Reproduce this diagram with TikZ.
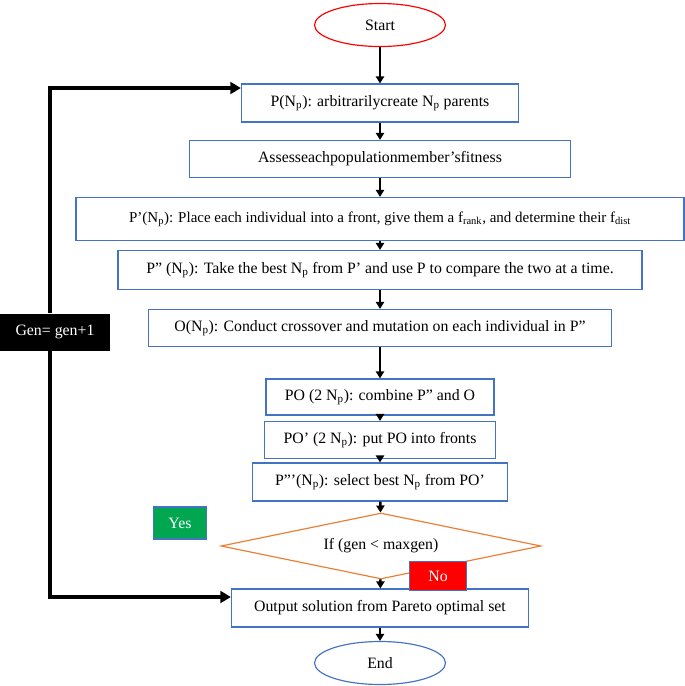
\documentclass[tikz,border=0pt]{standalone}
\usepackage{fontspec}
\setmainfont{Liberation Serif}
\usetikzlibrary{shapes.geometric,arrows.meta}
\definecolor{boxblue}{RGB}{68,114,196}
\definecolor{yesgreen}{RGB}{0,166,80}
\definecolor{diaorange}{RGB}{237,125,49}
\tikzset{
  procbox/.style={draw=boxblue, line width=1pt, rectangle, inner sep=0pt, font=\fontsize{13.5}{15}\selectfont},
  term/.style={ellipse, line width=1pt, inner sep=0pt, minimum width=3.93cm, minimum height=1.29cm, font=\fontsize{13.5}{15}\selectfont},
  flow/.style={-{Triangle[length=6pt,width=7pt]}, line width=2.2pt},
  loop/.style={line width=3pt}
}
\begin{document}
\begin{tikzpicture}[x=0.03cm,y=-0.03cm]
  \useasboundingbox (0,0) rectangle (685,686);
  % Terminals
  \node[term, draw=red] (start) at (380,25) {Start};
  \node[term, draw=boxblue] (end) at (380,663) {End};

  % Process steps
  \node[procbox, minimum width=8.31cm, minimum height=1.14cm] (init) at (380,103) {P(N\textsubscript{p}): arbitrarilycreate N\textsubscript{p} parents};
  \node[procbox, minimum width=11.43cm, minimum height=1.11cm] (assess) at (380,159) {Assesseachpopulationmember'sfitness};
  \node[procbox, minimum width=18.24cm, minimum height=1.29cm, font=\fontsize{12.8}{15}\selectfont] (rank) at (380,219) {P'(N\textsubscript{p}): Place each individual into a front, give them a f\textsubscript{rank}, and determine their f\textsubscript{dist}};
  \node[procbox, minimum width=15.72cm, minimum height=1.17cm] (select) at (380,270) {P'' (N\textsubscript{p}): Take the best N\textsubscript{p} from P' and use P to compare the two at a time.};
  \node[procbox, minimum width=13.89cm, minimum height=1.11cm] (cross) at (380,328) {O(N\textsubscript{p}): Conduct crossover and mutation on each individual in P''};
  \node[procbox, minimum width=6.84cm, minimum height=1.08cm] (comb) at (380,397) {PO (2 N\textsubscript{p}): combine P'' and O};
  \node[procbox, minimum width=6.93cm, minimum height=1.11cm] (front) at (380,440) {PO' (2 N\textsubscript{p}): put PO into fronts};
  \node[procbox, minimum width=7.65cm, minimum height=1.14cm] (best) at (380,482) {P'''(N\textsubscript{p}): select best N\textsubscript{p} from PO'};
  \node[diamond, aspect=4.85, draw=diaorange, line width=1pt, inner sep=0pt, minimum width=9.6cm, minimum height=1.98cm, font=\fontsize{13.5}{15}\selectfont] (test) at (381,546) {If (gen < maxgen)};
  \node[procbox, minimum width=8.91cm, minimum height=1.14cm] (out) at (380,608) {Output solution from Pareto optimal set};

  % Labels
  \node[fill=black, text=white, inner sep=0pt, minimum width=3.3cm, minimum height=1.11cm, font=\fontsize{13.5}{15}\selectfont] (gen) at (55,332) {Gen= gen+1};
  \node[fill=yesgreen, draw=boxblue, line width=1pt, text=white, inner sep=0pt, minimum width=1.59cm, minimum height=0.96cm, font=\fontsize{13.5}{15}\selectfont] (yes) at (180,523) {Yes};
  \node[fill=red, draw=boxblue, line width=1pt, text=white, inner sep=0pt, minimum width=1.71cm, minimum height=0.87cm, font=\fontsize{13.5}{15}\selectfont] (no) at (438,576) {No};

  % Main flow
  \draw[flow] (start) -- (init);
  \draw[flow] (init) -- (assess);
  \draw[flow] (assess) -- (rank);
  \draw[flow] (rank) -- (select);
  \draw[flow] (select) -- (cross);
  \draw[flow] (cross) -- (comb);
  \draw[flow] (comb) -- (front);
  \draw[flow] (front) -- (best);
  \draw[flow] (best) -- (test);
  \draw[flow] (test) -- (out);
  \draw[flow] (out) -- (end);

  % Generation loop
  \coordinate (topturn) at (50,88);
  \coordinate (botturn) at (50,597);
  \draw[loop, -{Triangle[length=9pt,width=10pt]}] (gen.north -| topturn) -- (topturn) -- (topturn -| init.west);
  \draw[loop, -{Triangle[length=9pt,width=10pt]}] (gen.south -| botturn) -- (botturn) -- (botturn -| out.west);
\end{tikzpicture}
\end{document}
